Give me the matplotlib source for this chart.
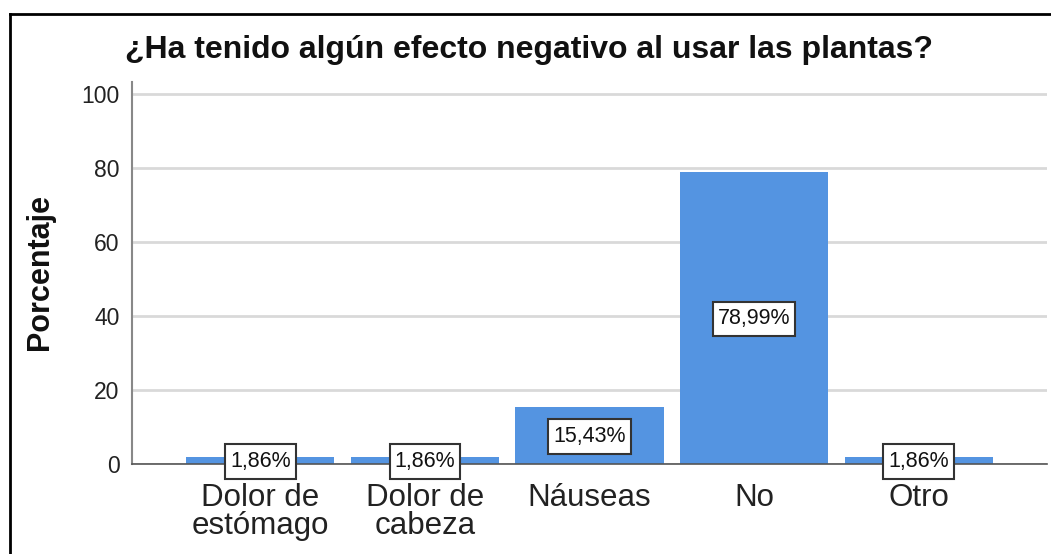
import matplotlib.pyplot as plt
from matplotlib.lines import Line2D
from matplotlib.path import Path
from matplotlib.transforms import Affine2D

# Data
categories = ['Dolor de\nestómago', 'Dolor de\ncabeza', 'Náuseas', 'No', 'Otro']
percentages = [1.86, 1.86, 15.43, 78.99, 1.86]
yticks = [0, 20, 40, 60, 80, 100]

W, H = 1051, 554


# rectangular label box, taller than the default padding gives
def label_box(x0, y0, width, height, mutation_size):
    cx, cy = x0 + width / 2, y0 + height / 2
    w = width + 0.45 * mutation_size
    h = 1.6 * mutation_size
    return Path.unit_rectangle().transformed(
        Affine2D().scale(w, h).translate(cx - w / 2, cy - h / 2))


fig = plt.figure(figsize=(W / 100, H / 100), dpi=100)
ax = fig.add_axes([132 / W, 1 - 464 / H, 915 / W, 382 / H])

x = list(range(len(categories)))
ax.bar(x, percentages, width=0.9, color='#5494e1', zorder=3)

ax.set_xlim(-0.78, 4.78)
ax.set_ylim(0, 103.2)
ax.set_yticks(yticks)
ax.set_xticks(x)
ax.set_xticklabels(categories, fontsize=22.5, color='#222222', linespacing=0.92,
                   family='Liberation Sans')
ax.tick_params(axis='x', length=0, pad=13.5)
ax.tick_params(axis='y', length=0, pad=9, labelsize=16.5, labelcolor='#222222')
for lab in ax.get_yticklabels():
    lab.set_family('Liberation Sans')

ax.grid(axis='y', color='#d9d9d9', linewidth=2, zorder=0)
ax.set_axisbelow(True)
for side in ('top', 'right'):
    ax.spines[side].set_visible(False)
ax.spines['left'].set_color('#888888')
ax.spines['left'].set_linewidth(1.5)
ax.spines['bottom'].set_color('#555555')
ax.spines['bottom'].set_linewidth(1.2)
ax.spines['bottom'].set_zorder(4)

# value labels in boxes
for xi, v in zip(x, percentages):
    ax.text(xi, v / 2 - 0.3, f'{v:.2f}%'.replace('.', ','), ha='center', va='center',
            fontsize=15.5, family='Liberation Sans', color='#111111', zorder=5,
            bbox=dict(boxstyle=label_box, facecolor='white',
                      edgecolor='#333333', linewidth=1.5))

fig.text(125 / W, 1 - 50 / H, '¿Ha tenido algún efecto negativo al usar las plantas?',
         fontsize=23, fontweight='bold', family='Liberation Sans', va='center',
         ha='left', color='#111111')
fig.text(40 / W, 1 - 272 / H, 'Porcentaje', rotation=90, fontsize=22,
         fontweight='bold', family='Liberation Sans', va='center', ha='center',
         color='#111111')

# outer frame (top and left edges visible)
fig.add_artist(Line2D([9.5 / W, 1], [1 - 13.5 / H, 1 - 13.5 / H],
                      transform=fig.transFigure, color='black', linewidth=2))
fig.add_artist(Line2D([9.5 / W, 9.5 / W], [0, 1 - 13.5 / H],
                      transform=fig.transFigure, color='black', linewidth=2))

fig.savefig('out.png', dpi=100)
